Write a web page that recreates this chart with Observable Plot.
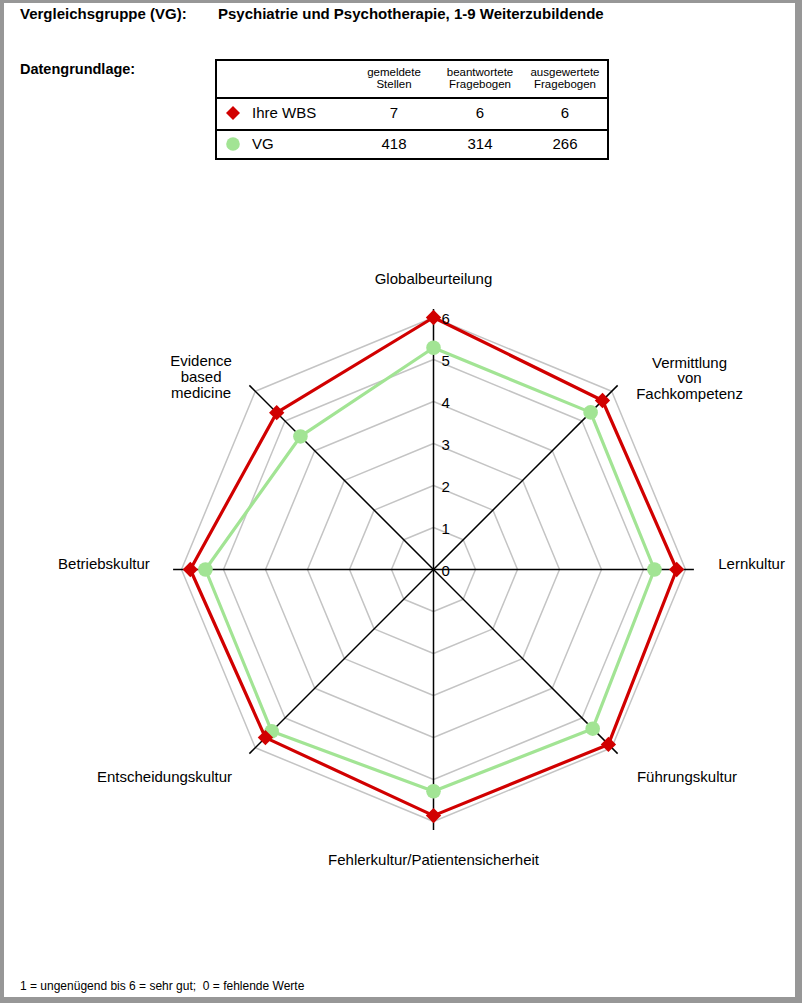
<!DOCTYPE html>
<html><head><meta charset="utf-8">
<script src="https://cdn.jsdelivr.net/npm/d3@7"></script>
<script src="https://cdn.jsdelivr.net/npm/@observablehq/plot@0.6"></script>
<style>
html,body{margin:0;padding:0;background:#fff;}
#page{position:relative;width:802px;height:1003px;background:#979797;overflow:hidden;font-family:"Liberation Sans",Arial,sans-serif;color:#000;}
#inner{position:absolute;left:4px;top:3px;width:791px;height:994px;background:#fff;}
.abs{position:absolute;white-space:nowrap;}
.b{font-weight:bold;}
#chart{position:absolute;left:0;top:200px;}
.hl{position:absolute;background:#000;}
</style></head>
<body>
<div id="page">
  <div id="inner"></div>
  <div id="chart"></div>
</div>
<script>
// ---------- data ----------
const titleLeft = "Vergleichsgruppe (VG):";
const titleRight = "Psychiatrie und Psychotherapie, 1-9 Weiterzubildende";
const basisLabel = "Datengrundlage:";
const footnote = "1 = ungenügend bis 6 = sehr gut;\u00a0 0 = fehlende Werte";

const tableCols = ["gemeldete\nStellen", "beantwortete\nFragebogen", "ausgewertete\nFragebogen"];
const seriesNames = ["Ihre WBS", "VG"];
const wbsCounts = [7, 6, 6];
const vgCounts = [418, 314, 266];

const axes = ["Globalbeurteilung", "Vermittlung\nvon\nFachkompetenz", "Lernkultur", "Führungskultur",
  "Fehlerkultur/Patientensicherheit", "Entscheidungskultur", "Betriebskultur", "Evidence\nbased\nmedicine"];
const wbs = [6.0, 5.69, 5.79, 5.89, 5.86, 5.66, 5.79, 5.28];
const vg  = [5.28, 5.29, 5.26, 5.36, 5.28, 5.45, 5.43, 4.48];
const levels = [1, 2, 3, 4, 5, 6];
const tickLabels = ["0", "1", "2", "3", "4", "5", "6"];

// ---------- colours ----------
const RED = "#d10000", GREEN = "#a2e494", GRID = "#c4c4c4";

const page = document.getElementById("page");
function addText(txt, left, centerY, size, opts = {}) {
  const d = document.createElement("div");
  d.className = "abs" + (opts.bold ? " b" : "");
  const lh = opts.lh || size * 1.3;
  d.style.fontSize = size + "px";
  d.style.lineHeight = lh + "px";
  const lines = txt.split("\n");
  d.style.top = (centerY - lh * lines.length / 2) + "px";
  if (opts.center) { d.style.left = (left - 60) + "px"; d.style.width = "120px"; d.style.textAlign = "center"; }
  else d.style.left = left + "px";
  d.innerHTML = lines.map(s => s.replace(/&/g, "&amp;").replace(/</g, "&lt;")).join("<br>");
  page.appendChild(d);
}
// header
addText(titleLeft, 20, 14, 15, {bold: true});
addText(titleRight, 218, 14, 15, {bold: true});
addText(basisLabel, 20, 69, 14.5, {bold: true});
addText(footnote, 20, 987, 12);

// table frame
const tb = {l: 216, t: 60, r: 608, b: 159};
function hline(x, y, w, h) { const d = document.createElement("div"); d.className = "hl";
  Object.assign(d.style, {left: x + "px", top: y + "px", width: w + "px", height: h + "px"}); page.appendChild(d); }
hline(tb.l - 1, tb.t - 1, tb.r - tb.l + 2, 2);
hline(tb.l - 1, tb.b - 1, tb.r - tb.l + 2, 2);
hline(tb.l - 1, tb.t - 1, 2, tb.b - tb.t + 2);
hline(tb.r - 1, tb.t - 1, 2, tb.b - tb.t + 2);
hline(tb.l - 1, 97, tb.r - tb.l + 2, 2);
hline(tb.l - 1, 129, tb.r - tb.l + 2, 2);
const colX = [394, 480, 565];
const rowY = [113, 144];
tableCols.forEach((c, i) => addText(c, colX[i], 79, 11.5, {center: true, lh: 11.6}));
[wbsCounts, vgCounts].forEach((row, r) => {
  addText(seriesNames[r], 252, rowY[r], 15);
  row.forEach((v, i) => addText(String(v), colX[i], rowY[r], 15, {center: true}));
});
// legend markers in table
const ms = d3.create("svg").attr("width", 30).attr("height", 60)
  .style("position", "absolute").style("left", "218px").style("top", "98px");
ms.append("path").attr("d", "M15,8 L22,15 L15,22 L8,15 Z").attr("fill", RED);
ms.append("circle").attr("cx", 15).attr("cy", 46).attr("r", 6.8).attr("fill", GREEN);
page.appendChild(ms.node());

// ---------- radar chart ----------
const k = 42, W = 802, H = 740, cx = 433, cy = 369;
const n = axes.length;
const ang = i => i * 2 * Math.PI / n;
const px = (r, i) => r * Math.sin(ang(i));
const py = (r, i) => r * Math.cos(ang(i));
const grid = levels.flatMap(l => d3.range(n + 1).map(i => ({l, x: px(l, i % n), y: py(l, i % n)})));
const ring = vals => d3.range(n + 1).map(i => ({x: px(vals[i % n], i % n), y: py(vals[i % n], i % n)}));
const pts = vals => vals.map((v, i) => ({x: px(v, i), y: py(v, i)}));

// label layout: radius + pixel offsets and anchors
const LR = 6.85;
const lblDx = [0, 52.6, -3, 0, 0, 2, 4, -29];
const lblDy = [-3, 12.4, -6, 4, 3, 4, -6, 11];
const lblAnchor = ["middle", "middle", "start", "start", "middle", "end", "end", "middle"];
const lblX = (d, i) => px(LR, i) + lblDx[i] / k;
const lblY = (d, i) => py(LR, i) - lblDy[i] / k;

const labelMarks = ["start", "middle", "end"].map(a =>
  Plot.text(axes, {filter: (d, i) => lblAnchor[i] === a, x: lblX, y: lblY, text: d => d,
    textAnchor: a, fontSize: 15, lineHeight: 1.04, fill: "#000"}));

const chart = Plot.plot({
  width: W, height: H, margin: 0,
  x: {domain: [-cx / k, (W - cx) / k], range: [0, W], axis: null},
  y: {domain: [-(H - cy) / k, cy / k], range: [H, 0], axis: null},
  style: {background: "none", fontFamily: "'Liberation Sans', Arial, sans-serif", overflow: "visible"},
  marks: [
    Plot.line(grid, {x: "x", y: "y", z: "l", stroke: GRID, strokeWidth: 1.5}),
    Plot.link(axes, {x1: () => 0, y1: () => 0, x2: (d, i) => px(6.2, i), y2: (d, i) => py(6.2, i),
      stroke: "#000", strokeWidth: 1.5}),
    Plot.line(ring(vg), {x: "x", y: "y", stroke: GREEN, strokeWidth: 3.2}),
    Plot.dot(pts(vg), {x: "x", y: "y", r: 7.3, fill: GREEN}),
    Plot.line(ring(wbs), {x: "x", y: "y", stroke: RED, strokeWidth: 3.2}),
    Plot.dot(pts(wbs), {x: "x", y: "y", r: 6.9, symbol: "diamond2", fill: RED}),
    Plot.text(tickLabels, {x: () => 0, y: d => +d, text: d => d, textAnchor: "start", dx: 8, dy: 2,
      fontSize: 15, fill: "#000"}),
    ...labelMarks
  ]
});
document.getElementById("chart").appendChild(chart);
</script>
</body></html>
